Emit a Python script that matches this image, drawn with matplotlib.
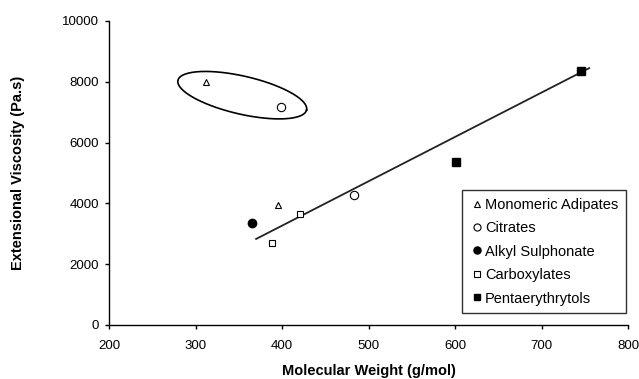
import matplotlib.pyplot as plt
import numpy as np

plt.rcParams['font.family'] = ['Liberation Sans', 'DejaVu Sans']

# data
ADIPATES_X = [312, 395]
ADIPATES_Y = [8000, 3950]
CITRATES_X = [399, 483]
CITRATES_Y = [7180, 4280]
SULPHONATE_X = [365]
SULPHONATE_Y = [3350]
CARBOXYLATES_X = [388, 421]
CARBOXYLATES_Y = [2700, 3650]
PENTA_X = [601, 746]
PENTA_Y = [5360, 8350]

# trend line end points
TREND_X = [370, 755]
TREND_Y = [2830, 8450]

# ellipse around outliers (centre in data units, semi-axes in pixels, tilt on screen)
ELL_CX, ELL_CY = 354, 7560
ELL_A_PX, ELL_B_PX, ELL_ANGLE = 66, 19, -13

fig = plt.figure(figsize=(6.39, 3.79), dpi=100)
ax = fig.add_axes([0.1706, 0.1425, 0.8124, 0.8021])

ax.plot(TREND_X, TREND_Y, color='#222222', linewidth=1.3, zorder=1)

ax.plot(ADIPATES_X, ADIPATES_Y, linestyle='none', marker='^', markersize=5,
        markerfacecolor='white', markeredgecolor='black', markeredgewidth=0.8,
        label='Monomeric Adipates', zorder=3)
ax.plot(CITRATES_X, CITRATES_Y, linestyle='none', marker='o', markersize=6,
        markerfacecolor='white', markeredgecolor='black', markeredgewidth=0.8,
        label='Citrates', zorder=3)
ax.plot(SULPHONATE_X, SULPHONATE_Y, linestyle='none', marker='o', markersize=6,
        color='black', label='Alkyl Sulphonate', zorder=3)
ax.plot(CARBOXYLATES_X, CARBOXYLATES_Y, linestyle='none', marker='s', markersize=5,
        markerfacecolor='white', markeredgecolor='black', markeredgewidth=0.8,
        label='Carboxylates', zorder=3)
ax.plot(PENTA_X, PENTA_Y, linestyle='none', marker='s', markersize=5.5,
        color='black', label='Pentaerythrytols', zorder=3)

ax.set_xlim(200, 800)
ax.set_ylim(0, 10000)
ax.set_xticks(range(200, 801, 100))
ax.set_yticks(range(0, 10001, 2000))

# ellipse drawn in screen proportions, converted to data units
px_per_x = 0.8124 * 639 / 600
px_per_y = 0.8021 * 379 / 10000
t = np.linspace(0, 2 * np.pi, 200)
th = np.deg2rad(ELL_ANGLE)
ex = ELL_A_PX * np.cos(t) * np.cos(th) - ELL_B_PX * np.sin(t) * np.sin(th)
ey = ELL_A_PX * np.cos(t) * np.sin(th) + ELL_B_PX * np.sin(t) * np.cos(th)
ax.plot(ELL_CX + ex / px_per_x, ELL_CY + ey / px_per_y, color='black', linewidth=1.2)

for s in ['top', 'right']:
    ax.spines[s].set_visible(False)
ax.spines['left'].set_linewidth(1.0)
ax.spines['bottom'].set_linewidth(1.0)
ax.tick_params(labelsize=9.5, length=3, width=1.0, direction='out')
ax.tick_params(axis='x', pad=8)
ax.tick_params(axis='y', pad=4)

ax.set_xlabel('Molecular Weight (g/mol)', fontsize=10.5, fontweight='bold', labelpad=8.5)
ax.set_ylabel('Extensional Viscosity (Pa.s)', fontsize=10.5, fontweight='bold', labelpad=27)

leg = ax.legend(loc='lower right', bbox_to_anchor=(0.995, 0.04), fontsize=10.5,
                frameon=True, fancybox=False, edgecolor='black', handletextpad=0.05,
                handlelength=1.0, borderpad=0.5, labelspacing=0.65, borderaxespad=0,
                markerscale=0.85)
leg.get_frame().set_linewidth(1.0)

plt.savefig('out.png', dpi=100)
